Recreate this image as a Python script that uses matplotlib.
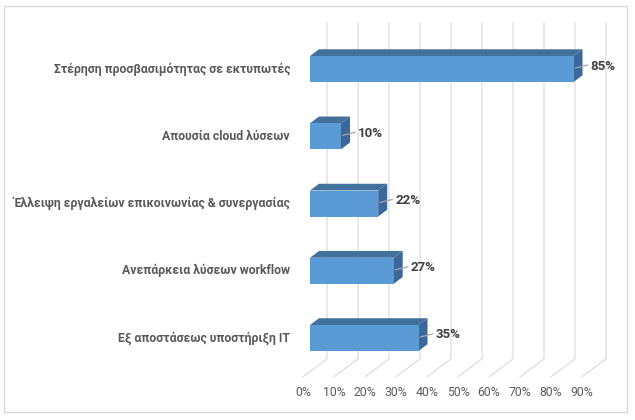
import matplotlib.pyplot as plt
from matplotlib.patches import Polygon, Rectangle

plt.rcParams['font.family'] = ['Roboto', 'DejaVu Sans']

# data (top to bottom)
categories = [
    'Στέρηση προσβασιμότητας σε εκτυπωτές',
    'Απουσία cloud λύσεων',
    'Έλλειψη εργαλείων επικοινωνίας & συνεργασίας',
    'Ανεπάρκεια λύσεων workflow',
    'Εξ αποστάσεως υποστήριξη IT',
]
values = [85, 10, 22, 27, 35]
ticks = [0, 10, 20, 30, 40, 50, 60, 70, 80, 90]
tick_labels = ['0%', '10%', '20%', '30%', '40%', '50%', '60%', '70%', '80%', '90%']

W, H = 635, 420
fig = plt.figure(figsize=(W / 100, H / 100), dpi=100)
ax_l, ax_r, ax_t, ax_b = 310, 589, 35.4, 371.6
ax = fig.add_axes([ax_l / W, 1 - ax_b / H, (ax_r - ax_l) / W, (ax_b - ax_t) / H])
ax.set_xlim(0, 90)
ax.set_ylim(4.5, -0.5)
ax.axis('off')

# pixel scale, used for the fake 3d depth
sx = (ax_r - ax_l) / 90
sy = (ax_b - ax_t) / 5
slope = 0.75


def proj(v, c, d):
    return (v + d / sx, c - slope * d / sy)


grid = '#d9d9d9'
floor_front, wall = -7, 17
for t in ticks:
    p0 = proj(t, 4.5, floor_front)
    p1 = proj(t, 4.5, wall)
    p2 = proj(t, -0.5, wall)
    ax.plot([p0[0], p1[0], p2[0]], [p0[1], p1[1], p2[1]], color=grid, lw=0.8,
            clip_on=False, zorder=1)

front_c = '#5b9bd5'
top_c = '#41719c'
side_c = '#3a689a'
h = 13 / sy
depth = 9
for i, v in enumerate(values):
    c = i
    front = [(0, c - h), (v, c - h), (v, c + h), (0, c + h)]
    top = [proj(0, c - h, 0), proj(v, c - h, 0), proj(v, c - h, depth), proj(0, c - h, depth)]
    side = [proj(v, c - h, 0), proj(v, c + h, 0), proj(v, c + h, depth), proj(v, c - h, depth)]
    ax.add_patch(Polygon(top, closed=True, fc=top_c, ec='none', clip_on=False, zorder=3))
    ax.add_patch(Polygon(side, closed=True, fc=side_c, ec='none', clip_on=False, zorder=3))
    ax.add_patch(Polygon(front, closed=True, fc=front_c, ec='none', clip_on=False, zorder=3))

    # leader line + value label
    ax.plot([v + 2 / sx, v + 14 / sx], [c - 1 / sy, c - 4 / sy], color='#a6a6a6', lw=0.9,
            clip_on=False, zorder=4)
    ax.annotate(f'{v}%', xy=(v, c), xytext=(17, 3), textcoords='offset pixels',
                ha='left', va='center', fontsize=9.5, fontweight='bold', color='#404040')

    ax.annotate(categories[i], xy=(0, c), xytext=(-20, 0), textcoords='offset pixels',
                ha='right', va='center', fontsize=8.8, fontweight='bold', color='#595959')

for t, lab in zip(ticks, tick_labels):
    ax.annotate(lab, xy=(t, 4.5), xytext=(floor_front, -21), textcoords='offset pixels',
                ha='center', va='center', fontsize=8.8, color='#595959')

fig.patches.append(Rectangle((4 / W, 1 - 412 / H), 623 / W, 406 / H, transform=fig.transFigure,
                             fill=False, ec='#d9d9d9', lw=1))

fig.savefig('out.png', dpi=100, facecolor='white')
